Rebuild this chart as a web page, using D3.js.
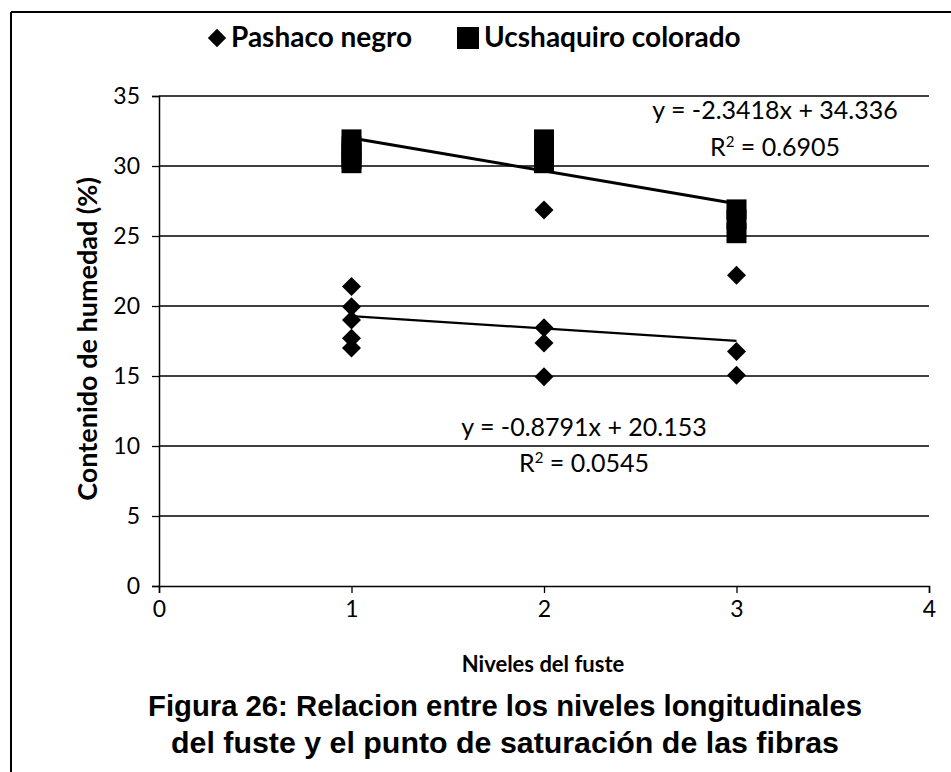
<!DOCTYPE html>
<html>
<head>
<meta charset="utf-8">
<script src="https://cdn.jsdelivr.net/npm/d3@7"></script>
<style>
  html, body { margin: 0; padding: 0; background: #fff; }
  svg { display: block; }
</style>
</head>
<body>
<svg id="chart" width="951" height="772"></svg>
<script>
// ---- data ----
const levels = [1, 2, 3];
const pashacoNegro = [
  [21.4, 19.95, 19.0, 17.7, 17.0],
  [26.85, 18.45, 17.35, 14.95],
  [22.2, 16.75, 15.05]
];
const ucshaquiroColorado = [
  [31.9, 31.4, 30.9, 30.5, 30.2],
  [31.9, 31.3, 30.7, 30.2],
  [26.9, 26.2, 25.2]
];
const seriesNames = ["Pashaco negro", "Ucshaquiro colorado"];
const trendSlope = [-0.8791, -2.3418];
const trendIntercept = [20.153, 34.336];
const trendR2 = ["0.0545", "0.6905"];
const yTicks = [0, 5, 10, 15, 20, 25, 30, 35];
const xTicks = [0, 1, 2, 3, 4];
const yTitle = "Contenido de humedad (%)";
const xTitle = "Niveles del fuste";
const captionLines = [
  "Figura 26: Relacion entre los niveles longitudinales",
  "del fuste y el punto de saturación de las fibras"
];

// ---- drawing ----
const svg = d3.select("#chart");
const font = "Lato, 'Open Sans', sans-serif";

const x = d3.scaleLinear().domain([0, 4]).range([159, 929]);
const y = d3.scaleLinear().domain([0, 35]).range([586, 96]);

// outer frame (top and left)
svg.append("line").attr("x1", 11).attr("x2", 951).attr("y1", 12).attr("y2", 12)
  .attr("stroke", "#000").attr("stroke-width", 2);
svg.append("line").attr("x1", 11).attr("x2", 11).attr("y1", 12).attr("y2", 772)
  .attr("stroke", "#000").attr("stroke-width", 2);

// gridlines
svg.append("g").selectAll("line").data(yTicks.filter(d => d > 0)).join("line")
  .attr("x1", x(0)).attr("x2", x(4))
  .attr("y1", d => y(d)).attr("y2", d => y(d))
  .attr("stroke", "#000").attr("stroke-width", 1.3);

// y axis
const yAxis = svg.append("g").attr("transform", `translate(${x(0)},0)`)
  .call(d3.axisLeft(y).tickValues(yTicks).tickFormat(d3.format("d")).tickSize(7).tickPadding(12));
yAxis.select(".domain").attr("stroke", "#000").attr("stroke-width", 1.5);
yAxis.selectAll(".tick line").attr("stroke", "#000").attr("stroke-width", 1.3);
yAxis.selectAll("text").attr("font-family", font).attr("font-size", 23).attr("fill", "#000");

// x axis
const xAxis = svg.append("g").attr("transform", `translate(0,${y(0)})`)
  .call(d3.axisBottom(x).tickValues(xTicks).tickFormat(d3.format("d")).tickSize(7).tickPadding(8));
xAxis.select(".domain").attr("stroke", "#000").attr("stroke-width", 1.5);
xAxis.selectAll(".tick line").attr("stroke", "#000").attr("stroke-width", 1.3);
xAxis.selectAll("text").attr("font-family", font).attr("font-size", 23).attr("fill", "#000");

// trend lines
const trends = [0, 1].map(i => levels.map(l => [l, trendIntercept[i] + trendSlope[i] * l]));
const lineGen = d3.line().x(d => x(d[0])).y(d => y(d[1]));
svg.append("path").datum([trends[0][0], trends[0][2]]).attr("d", lineGen)
  .attr("fill", "none").attr("stroke", "#000").attr("stroke-width", 2.2);
svg.append("path").datum([trends[1][0], trends[1][2]]).attr("d", lineGen)
  .attr("fill", "none").attr("stroke", "#000").attr("stroke-width", 3);

// points
function flatten(arr) {
  const out = [];
  arr.forEach((vals, i) => vals.forEach(v => out.push([levels[i], v])));
  return out;
}
svg.append("g").selectAll("rect").data(flatten(ucshaquiroColorado)).join("rect")
  .attr("x", d => x(d[0]) - 10).attr("y", d => y(d[1]) - 10)
  .attr("width", 20).attr("height", 20).attr("fill", "#000");
svg.append("g").selectAll("rect").data(flatten(pashacoNegro)).join("rect")
  .attr("x", -6.7).attr("y", -6.7).attr("width", 13.4).attr("height", 13.4)
  .attr("transform", d => `translate(${x(d[0])},${y(d[1])}) rotate(45)`)
  .attr("fill", "#000");

// trend equations
function eqText(i) {
  const s = trendSlope[i] < 0 ? "-" : "";
  return `y = ${s}${Math.abs(trendSlope[i])}x + ${trendIntercept[i].toFixed(3)}`;
}
const eqPos = [
  { cx: 584, y1: 436, y2: 472 },
  { cx: 775, y1: 119, y2: 156 }
];
[0, 1].forEach(i => {
  svg.append("text").attr("x", eqPos[i].cx).attr("y", eqPos[i].y1)
    .attr("text-anchor", "middle").attr("font-family", font).attr("font-size", 25)
    .text(eqText(i));
  const t = svg.append("text").attr("x", eqPos[i].cx).attr("y", eqPos[i].y2)
    .attr("text-anchor", "middle").attr("font-family", font).attr("font-size", 25);
  t.append("tspan").text("R");
  t.append("tspan").attr("font-size", 15).attr("dy", -9).text("2");
  t.append("tspan").attr("dy", 9).text(" = " + trendR2[i]);
});

// legend
const lg = svg.append("g");
lg.append("rect").attr("x", -6.5).attr("y", -6.5).attr("width", 13).attr("height", 13)
  .attr("transform", "translate(217,38) rotate(45)").attr("fill", "#000");
lg.append("text").attr("x", 231).attr("y", 47).attr("font-family", font)
  .attr("font-weight", "bold").attr("font-size", 28).text(seriesNames[0]);
lg.append("rect").attr("x", 457).attr("y", 27).attr("width", 22).attr("height", 22).attr("fill", "#000");
lg.append("text").attr("x", 484).attr("y", 47).attr("font-family", font)
  .attr("font-weight", "bold").attr("font-size", 28).text(seriesNames[1]);

// axis titles
svg.append("text").attr("transform", "translate(97,339) rotate(-90)")
  .attr("text-anchor", "middle").attr("font-family", font).attr("font-weight", "bold")
  .attr("font-size", 27).text(yTitle);
svg.append("text").attr("x", 543).attr("y", 672)
  .attr("text-anchor", "middle").attr("font-family", font).attr("font-weight", "bold")
  .attr("font-size", 22).text(xTitle);

// caption
const capW = [714, 668];
captionLines.forEach((c, i) => {
  svg.append("text").attr("x", 505).attr("y", 716 + i * 37)
    .attr("text-anchor", "middle").attr("font-family", "'Liberation Sans', Arial, sans-serif")
    .attr("font-weight", "bold").attr("font-size", 29)
    .attr("textLength", capW[i]).attr("lengthAdjust", "spacingAndGlyphs")
    .text(c);
});
</script>
</body>
</html>
